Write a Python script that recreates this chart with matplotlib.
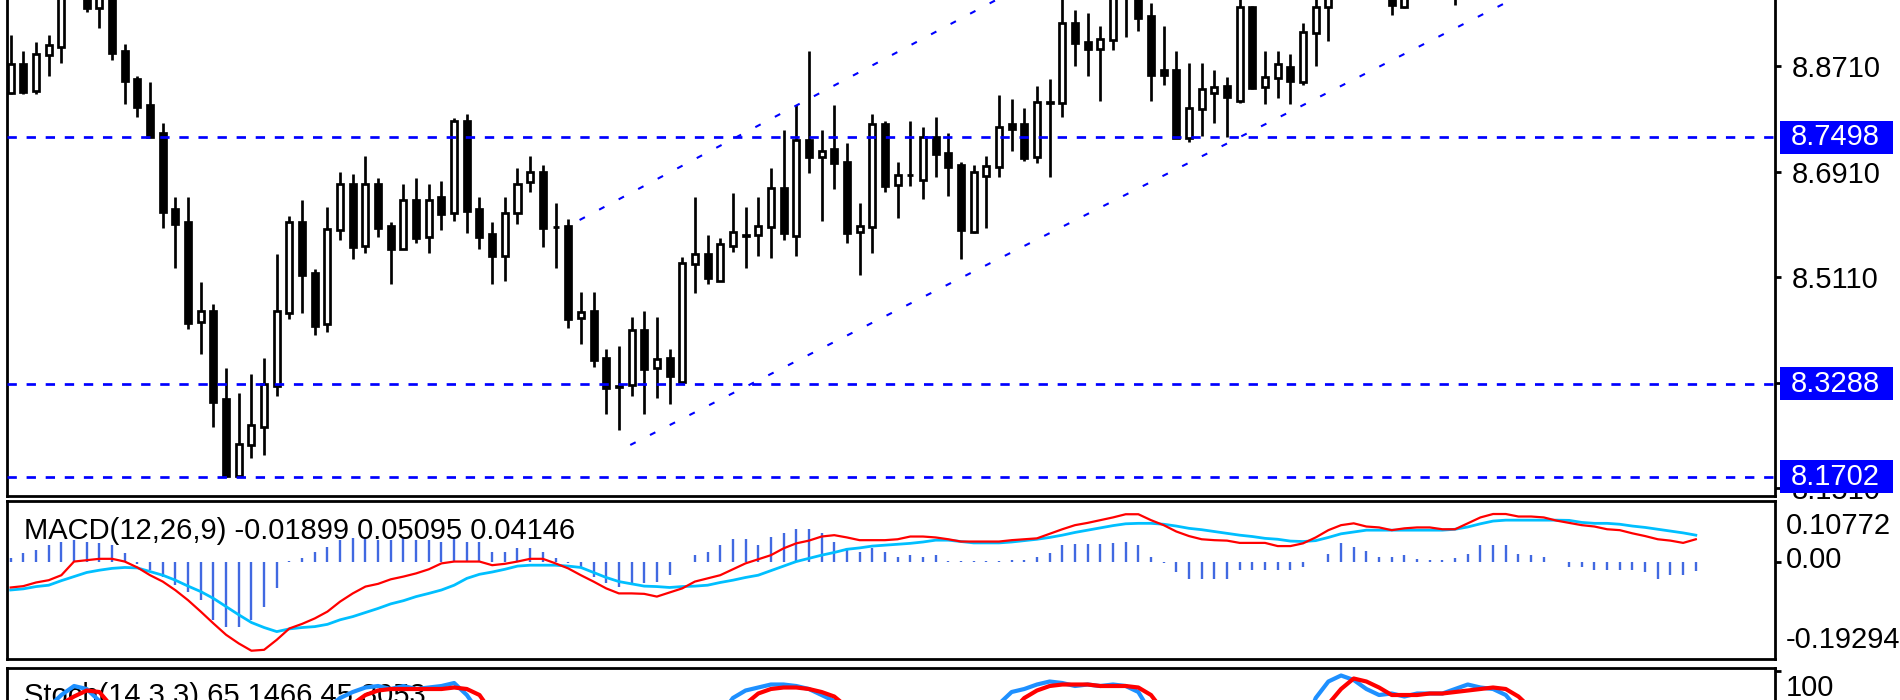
import matplotlib
matplotlib.use("Agg")
import matplotlib.pyplot as plt
from matplotlib.patches import Rectangle
from matplotlib.transforms import blended_transform_factory
import numpy as np

W, H = 1900, 700
plt.rcParams['font.family'] = ['Liberation Sans', 'DejaVu Sans']

# ---------------- data ----------------
opens = [8.8249, 8.8750, 8.8295, 8.8904, 8.9046, 9.0000, 9.0300, 8.9701, 8.9950, 8.8972,
         8.8494, 8.8050, 8.7566, 8.6269, 8.6058, 8.4351, 8.4533, 8.3025, 8.1720, 8.2245,
         8.2558, 8.3258, 8.4493, 8.6058, 8.5187, 8.4305, 8.5916, 8.6696, 8.5648, 8.6696,
         8.5990, 8.5591, 8.6428, 8.5802, 8.6485, 8.6200, 8.7783, 8.6269, 8.5842, 8.5478,
         8.6200, 8.6730, 8.6912, 8.5973, 8.5990, 8.4407, 8.4533, 8.3725, 8.3241, 8.3269,
         8.4208, 8.3554, 8.3725, 8.3315, 8.5330, 8.5500, 8.5045, 8.5648, 8.5819, 8.5830,
         8.5973, 8.6639, 8.5813, 8.7452, 8.7168, 8.7293, 8.7071, 8.5876, 8.5973, 8.7720,
         8.6684, 8.6855, 8.6769, 8.7509, 8.7236, 8.7026, 8.5876, 8.6843, 8.6997, 8.7726,
         8.7726, 8.7168, 8.8090, 8.8079, 8.9456, 8.9131, 8.9001, 8.9160, 9.0000, 9.0000,
         8.9570, 8.8648, 8.8648, 8.7481, 8.7976, 8.8249, 8.8374, 8.8124, 8.9729, 8.8352,
         8.8505, 8.8705, 8.8448, 8.9274, 8.9729, 9.0100, 9.0400, 9.0300, 9.0200, 9.0100,
         8.9729, 9.0150, 9.0450, 9.0600, 9.0300, 9.0400, 9.0800, 9.1000, 9.1100, 9.0900,
         9.1050, 9.1200, 9.1000, 9.0900, 9.0850, 9.0700, 9.0900, 9.0650, 9.0600, 9.0500,
         9.0650, 9.0450, 9.0700, 9.0800]
highs = [8.9245, 8.8972, 8.9131, 8.9245, 9.0150, 9.0400, 9.0500, 9.0200, 9.0150, 8.9086,
         8.8545, 8.8437, 8.7737, 8.6485, 8.6485, 8.5022, 8.4647, 8.3565, 8.3127, 8.3457,
         8.3725, 8.5506, 8.6155, 8.6428, 8.5244, 8.6314, 8.6912, 8.6866, 8.7185, 8.6809,
         8.6058, 8.6701, 8.6809, 8.6701, 8.6752, 8.7834, 8.7891, 8.6485, 8.6058, 8.6485,
         8.6969, 8.7185, 8.7026, 8.6382, 8.6104, 8.4863, 8.4863, 8.3884, 8.3941, 8.4425,
         8.4533, 8.4425, 8.3884, 8.5449, 8.6485, 8.5830, 8.5773, 8.6542, 8.6314, 8.6485,
         8.6969, 8.7623, 8.8050, 8.8978, 8.7623, 8.8050, 8.7407, 8.6382, 8.7891, 8.7783,
         8.7071, 8.7783, 8.7680, 8.7840, 8.7566, 8.7071, 8.7026, 8.7185, 8.8221, 8.8153,
         8.8005, 8.8374, 8.8488, 8.9950, 8.9672, 8.9615, 8.9405, 9.0100, 9.0300, 9.0200,
         8.9786, 8.9405, 8.8972, 8.8762, 8.8762, 8.8648, 8.8534, 8.9950, 8.9740, 8.8972,
         8.8972, 8.8915, 8.9456, 9.0000, 9.0300, 9.0500, 9.0700, 9.0600, 9.0450, 9.0350,
         9.0300, 9.0600, 9.0750, 9.0800, 9.0550, 9.0900, 9.1100, 9.1300, 9.1300, 9.1200,
         9.1350, 9.1400, 9.1200, 9.1100, 9.1000, 9.1000, 9.1000, 9.0800, 9.0750, 9.0800,
         9.0700, 9.0800, 9.0900, 9.1000]
lows = [8.8238, 8.8232, 8.8232, 8.8551, 8.8773, 8.9900, 8.9644, 8.9360, 8.8818, 8.8067,
        8.7851, 8.7509, 8.5956, 8.5261, 8.4220, 8.3798, 8.2558, 8.1702, 8.1702, 8.2017,
        8.2074, 8.3087, 8.4390, 8.4493, 8.4123, 8.4168, 8.5745, 8.5421, 8.5529, 8.5791,
        8.4988, 8.5591, 8.5688, 8.5529, 8.5916, 8.6069, 8.5859, 8.5591, 8.4988, 8.5045,
        8.6018, 8.6559, 8.5631, 8.5261, 8.4237, 8.3964, 8.3582, 8.2769, 8.2501, 8.3087,
        8.2769, 8.3042, 8.2939, 8.3298, 8.4834, 8.4988, 8.5045, 8.5534, 8.5261, 8.5478,
        8.5432, 8.5745, 8.5472, 8.6883, 8.6069, 8.6610, 8.5688, 8.5147, 8.5529, 8.6559,
        8.6126, 8.6667, 8.6445, 8.6826, 8.6502, 8.5421, 8.5859, 8.5956, 8.6826, 8.7265,
        8.7094, 8.7054, 8.6826, 8.7851, 8.8722, 8.8551, 8.8124, 8.8989, 8.9205, 8.9314,
        8.8124, 8.8392, 8.7481, 8.7424, 8.7521, 8.7737, 8.7509, 8.8079, 8.8318, 8.8067,
        8.8175, 8.8067, 8.8392, 8.8722, 8.9149, 8.9950, 9.0100, 9.0000, 8.9950, 8.9587,
        8.9701, 9.0000, 9.0200, 9.0150, 8.9758, 9.0300, 9.0600, 9.0800, 9.0800, 9.0700,
        9.0900, 9.0900, 9.0800, 9.0700, 9.0600, 9.0600, 9.0600, 9.0500, 9.0450, 9.0400,
        9.0400, 9.0400, 9.0550, 9.0700]
closes = [8.8750, 8.8278, 8.8915, 8.9075, 9.0000, 9.0300, 8.9701, 8.9950, 8.8944, 8.8460,
          8.8010, 8.7509, 8.6229, 8.6012, 8.4334, 8.4533, 8.2985, 8.1720, 8.2256, 8.2580,
          8.3286, 8.4533, 8.6058, 8.5147, 8.4282, 8.5933, 8.6696, 8.5631, 8.6696, 8.5944,
          8.5591, 8.6428, 8.5785, 8.6428, 8.6183, 8.7783, 8.6240, 8.5802, 8.5478, 8.6212,
          8.6696, 8.6912, 8.5956, 8.5962, 8.4396, 8.4521, 8.3696, 8.3213, 8.3252, 8.4208,
          8.3537, 8.3713, 8.3429, 8.5347, 8.5500, 8.5102, 8.5671, 8.5887, 8.5825, 8.5990,
          8.6639, 8.5859, 8.7452, 8.7156, 8.7270, 8.7054, 8.5859, 8.5990, 8.7720, 8.6667,
          8.6855, 8.6860, 8.7509, 8.7213, 8.6997, 8.5916, 8.6912, 8.7014, 8.7669, 8.7635,
          8.7139, 8.8107, 8.8096, 8.9456, 8.9103, 8.9001, 8.9177, 8.9950, 8.9900, 8.9530,
          8.8562, 8.8562, 8.7481, 8.7993, 8.8318, 8.8363, 8.8181, 8.9729, 8.8335, 8.8522,
          8.8750, 8.8460, 8.9291, 8.9729, 9.0100, 9.0400, 9.0300, 9.0200, 9.0100, 8.9758,
          9.0150, 9.0450, 9.0600, 9.0300, 9.0400, 9.0800, 9.1000, 9.1100, 9.0900, 9.1050,
          9.1200, 9.1000, 9.0900, 9.0850, 9.0700, 9.0900, 9.0650, 9.0600, 9.0500, 9.0650,
          9.0450, 9.0700, 9.0800, 9.0950]

macd_main = [-0.056, -0.053, -0.045, -0.040, -0.029, 0.001, 0.004, 0.007, 0.007, 0.001,
             -0.012, -0.029, -0.043, -0.062, -0.084, -0.109, -0.135, -0.160, -0.179, -0.195,
             -0.193, -0.171, -0.146, -0.136, -0.124, -0.109, -0.087, -0.069, -0.054, -0.048,
             -0.038, -0.032, -0.025, -0.016, -0.003, 0.001, 0.001, 0.001, -0.007, -0.004,
             0.001, 0.007, 0.007, -0.003, -0.014, -0.029, -0.043, -0.058, -0.069, -0.069,
             -0.070, -0.076, -0.067, -0.058, -0.043, -0.036, -0.029, -0.016, -0.003, 0.006,
             0.015, 0.030, 0.041, 0.047, 0.056, 0.059, 0.054, 0.048, 0.048, 0.048,
             0.050, 0.056, 0.056, 0.054, 0.050, 0.045, 0.045, 0.045, 0.045, 0.048,
             0.050, 0.052, 0.062, 0.072, 0.081, 0.086, 0.092, 0.098, 0.105, 0.105,
             0.092, 0.081, 0.067, 0.057, 0.050, 0.048, 0.047, 0.042, 0.042, 0.042,
             0.035, 0.035, 0.041, 0.054, 0.070, 0.081, 0.085, 0.078, 0.076, 0.070,
             0.074, 0.076, 0.076, 0.072, 0.072, 0.085, 0.098, 0.1055, 0.1055, 0.100,
             0.100, 0.098, 0.091, 0.086, 0.081, 0.078, 0.072, 0.070, 0.063, 0.057,
             0.050, 0.047, 0.042, 0.050]
macd_signal = [-0.0615, -0.059, -0.054, -0.051, -0.041, -0.032, -0.023, -0.018, -0.014, -0.012,
               -0.013, -0.021, -0.029, -0.040, -0.053, -0.065, -0.080, -0.098, -0.116, -0.133,
               -0.144, -0.153, -0.147, -0.144, -0.142, -0.137, -0.127, -0.120, -0.111, -0.102,
               -0.092, -0.085, -0.076, -0.069, -0.0615, -0.051, -0.036, -0.027, -0.022, -0.016,
               -0.009, -0.007, -0.007, -0.007, -0.009, -0.012, -0.023, -0.034, -0.043, -0.048,
               -0.053, -0.054, -0.056, -0.054, -0.053, -0.051, -0.045, -0.040, -0.034, -0.029,
               -0.019, -0.009, 0.001, 0.008, 0.015, 0.021, 0.028, 0.031, 0.035, 0.037,
               0.039, 0.041, 0.044, 0.048, 0.048, 0.045, 0.042, 0.042, 0.042, 0.044,
               0.047, 0.050, 0.054, 0.059, 0.065, 0.070, 0.075, 0.080, 0.084, 0.085,
               0.085, 0.083, 0.079, 0.074, 0.071, 0.067, 0.063, 0.059, 0.056, 0.052,
               0.050, 0.046, 0.045, 0.047, 0.054, 0.062, 0.066, 0.070, 0.070, 0.070,
               0.070, 0.070, 0.070, 0.070, 0.072, 0.077, 0.084, 0.090, 0.092, 0.092,
               0.092, 0.092, 0.092, 0.0915, 0.087, 0.085, 0.085, 0.083, 0.079, 0.076,
               0.072, 0.068, 0.064, 0.059]
macd_hist = [0.008, 0.019, 0.026, 0.037, 0.045, 0.048, 0.045, 0.041, 0.037, 0.019,
             -0.005, -0.018, -0.032, -0.051, -0.065, -0.084, -0.127, -0.142, -0.142, -0.127,
             -0.098, -0.058, 0.002, 0.008, 0.023, 0.034, 0.048, 0.052, 0.052, 0.048,
             0.048, 0.052, 0.048, 0.048, 0.045, 0.052, 0.045, 0.045, 0.023, 0.023,
             0.030, 0.030, 0.023, 0.008, -0.002, -0.014, -0.032, -0.047, -0.054, -0.051,
             -0.047, -0.043, -0.029, 0.001, 0.015, 0.023, 0.037, 0.050, 0.050, 0.037,
             0.056, 0.063, 0.072, 0.072, 0.063, 0.045, 0.030, 0.023, 0.030, 0.023,
             0.012, 0.015, 0.012, 0.015, 0.003, 0.003, 0.003, 0.003, 0.003, 0.004,
             0.005, 0.010, 0.019, 0.037, 0.040, 0.040, 0.040, 0.042, 0.044, 0.037,
             0.012, -0.002, -0.021, -0.038, -0.038, -0.038, -0.038, -0.018, -0.018, -0.018,
             -0.018, -0.018, -0.012, 0.001, 0.018, 0.041, 0.032, 0.025, 0.010, 0.010,
             0.015, 0.006, 0.004, 0.004, 0.008, 0.018, 0.037, 0.037, 0.037, 0.018,
             0.015, 0.010, -0.001, -0.010, -0.010, -0.018, -0.018, -0.018, -0.018, -0.021,
             -0.038, -0.029, -0.029, -0.019]

stoch_k = [60, 62, 70, 76, 84, 90, 88, 80, 60, 40,
           20, 10, 5, 3, 2, 5, 2, 1, 8, 15,
           25, 50, 70, 65, 60, 75, 82, 86, 89, 90,
           88, 90, 88, 89, 90, 92, 84, 72, 55, 45,
           50, 55, 40, 30, 15, 10, 5, 3, 6, 15,
           12, 18, 16, 45, 55, 52, 70, 82, 87, 89,
           91, 91, 90, 88, 84, 80, 65, 55, 70, 55,
           50, 58, 70, 65, 55, 30, 45, 55, 78, 86,
           88, 91, 93, 92, 90, 91, 90, 91, 90, 86,
           72, 55, 35, 20, 28, 35, 25, 55, 40, 45,
           50, 40, 60, 82, 93, 97, 94, 88, 84, 85,
           83, 85, 85, 85, 88, 91, 89, 88, 84, 74,
           60, 50, 40, 35, 30, 35, 25, 20, 15, 20,
           10, 30, 45, 65.1466]
stoch_d = [55, 58, 64, 69, 78, 83, 87, 86, 76, 60,
           40, 23, 12, 6, 3, 3, 3, 3, 4, 8,
           16, 30, 48, 62, 65, 67, 72, 78, 84, 87,
           88, 88, 88, 88, 88, 89, 88, 84, 72, 57,
           50, 50, 48, 42, 28, 18, 10, 6, 5, 8,
           11, 15, 15, 26, 39, 51, 59, 68, 78, 85,
           88, 89, 89, 88, 86, 83, 76, 66, 63, 60,
           58, 54, 59, 64, 63, 50, 43, 43, 59, 73,
           82, 87, 90, 91, 91, 91, 90, 90, 90, 89,
           84, 73, 55, 37, 28, 28, 29, 38, 40, 47,
           45, 45, 50, 64, 78, 88, 95, 93, 89, 84,
           84, 84, 85, 85, 86, 87, 88, 89, 88, 83,
           75, 62, 50, 42, 35, 33, 30, 27, 20, 18,
           15, 20, 28, 45.3053]

price_ticks = [8.8710, 8.6910, 8.5110, 8.3310, 8.1510]
level_prices = [8.7498, 8.3288, 8.1702]
upper_channel = [(44.9, 8.6086), (67.56, 8.8676)]
lower_channel = [(48.9, 8.2244), (101.5, 8.7993)]
macd_title = "MACD(12,26,9) -0.01899 0.05095 0.04146"
stoch_title = "Stoch(14,3,3) 65.1466 45.3053"
macd_scale = ["0.10772", "0.00", "-0.19294"]
stoch_scale = ["100"]

FS = 21

# ---------------- layout ----------------
fig = plt.figure(figsize=(W / 100, H / 100), dpi=100)
fig.patch.set_facecolor('white')


def rect(left, top, right, bottom):
    return [left / W, 1 - bottom / H, (right - left) / W, (bottom - top) / H]


ax = fig.add_axes(rect(7.3, 0, 1775, 496))
axm = fig.add_axes(rect(7.3, 501, 1775, 659))
axs = fig.add_axes(rect(7.3, 668, 1775, 826))

n = len(opens)
x = np.arange(n)
o = np.array(opens); hi = np.array(highs); lo = np.array(lows); c = np.array(closes)
XL = (-0.268, 139.25)

for a in (ax, axm, axs):
    a.set_xlim(*XL)
    a.set_xticks([])
    a.set_facecolor('white')
    for s in a.spines.values():
        s.set_linewidth(2.0)
        s.set_color('black')

ax.spines['top'].set_visible(False)
axs.spines['bottom'].set_visible(False)

# ---------------- main candles ----------------
ax.set_ylim(8.1373, 8.9843)
ax.vlines(x, lo, hi, color='black', lw=1.95, zorder=2)
up = c >= o
bottoms = np.minimum(o, c)
heights = np.maximum(np.abs(c - o), 0.0008)
ax.bar(x, heights, bottom=bottoms, width=0.474,
       color=['white' if u else 'black' for u in up],
       edgecolor='black', linewidth=1.95, zorder=3)

for p in level_prices:
    ax.axhline(p, color='#0000FF', lw=1.95, linestyle=(0, (3.45, 3.6)), zorder=4)

for (x1, y1), (x2, y2) in (upper_channel, lower_channel):
    slope = (y2 - y1) / (x2 - x1)
    xe = XL[1]
    ax.plot([x1, xe], [y1, y1 + slope * (xe - x1)], color='#0000FF', lw=1.5,
            linestyle=(0, (2.9, 7.7)), zorder=4, solid_capstyle='butt', dash_capstyle='butt')

ax.yaxis.tick_right()
ax.set_yticks(price_ticks)
ax.set_yticklabels([f"{t:.4f}" for t in price_ticks])
ax.tick_params(axis='y', direction='out', length=4.3, width=2.0, pad=8,
               labelsize=FS, colors='black')

# level boxes
tb = blended_transform_factory(fig.transFigure, ax.transData)
bh = 33 / 585.6
for p in level_prices:
    fig.add_artist(Rectangle((1780 / W, p - bh / 2), 113 / W, bh, transform=tb,
                             facecolor='#0000FF', edgecolor='none', zorder=5))
    fig.text(1791 / W, p, f"{p:.4f}", transform=tb, color='white', fontsize=FS,
             ha='left', va='center', zorder=6)

# ---------------- MACD ----------------
axm.set_ylim(-0.2132, 0.1341)
axm.vlines(x, 0, macd_hist, color='#4169E1', lw=1.7, zorder=2)
axm.plot(x, macd_signal, color='#00BFFF', lw=2.0, zorder=3)
axm.plot(x, macd_main, color='#FF0000', lw=1.6, zorder=4)
axm.yaxis.tick_right()
axm.set_yticks([0])
axm.set_yticklabels([])
axm.tick_params(axis='y', direction='out', length=4.3, width=2.0)
fig.text(24 / W, 1 - 539 / H, macd_title, fontsize=FS, color='black',
         ha='left', va='baseline', zorder=6)
for lab, yc in zip(macd_scale, (526, 560, 640)):
    fig.text(1786 / W, 1 - yc / H, lab, fontsize=FS, color='black', ha='left', va='center')

# ---------------- Stochastic ----------------
axs.set_ylim(-3.3, 102)
axs.text(24 / W, -4 / H, stoch_title, transform=fig.transFigure, fontsize=FS,
         color='black', ha='left', va='baseline', zorder=1)
axs.plot(x, stoch_k, color='#1E90FF', lw=3.0, zorder=2)
axs.plot(x, stoch_d, color='#FF0000', lw=3.0, zorder=3)
axs.yaxis.tick_right()
axs.set_yticks([100])
axs.set_yticklabels([])
axs.tick_params(axis='y', direction='out', length=4.3, width=2.0)
fig.text(1786 / W, 1 - 688 / H, stoch_scale[0], fontsize=FS, color='black',
         ha='left', va='center')

fig.savefig("out.png", dpi=100, facecolor='white')
